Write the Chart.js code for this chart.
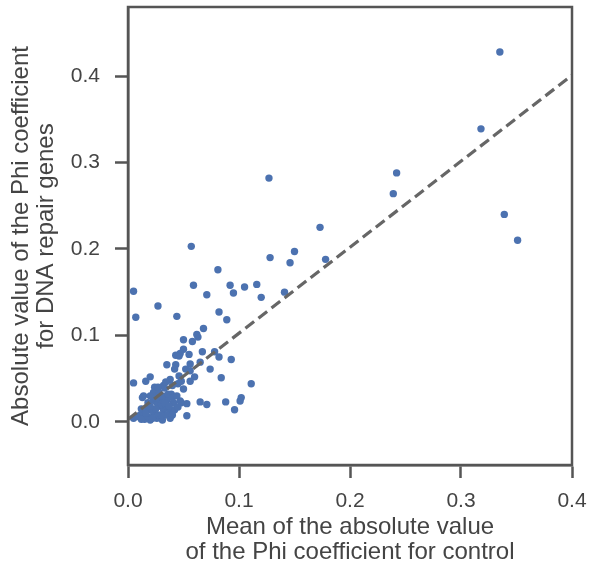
<!DOCTYPE html>
<html>
<head>
<meta charset="utf-8">
<script src="https://cdn.jsdelivr.net/npm/chart.js@4.4.1/dist/chart.umd.min.js"></script>
<style>
  html, body { margin: 0; padding: 0; background: #fff; }
  #wrap { width: 589px; height: 573px; }
</style>
</head>
<body>
<div id="wrap"><canvas id="chart"></canvas></div>
<script>
// mean |phi| for control (x) and |phi| for DNA repair genes (y)
const controlPhi = [
  0.335, 0.318, 0.339, 0.351, 0.242, 0.239, 0.127, 0.173, 0.178, 0.150,
  0.146, 0.141, 0.128, 0.120, 0.116, 0.105, 0.092, 0.095, 0.081, 0.057,
  0.059, 0.071, 0.082, 0.089, 0.005, 0.007, 0.027, 0.044, 0.068, 0.063,
  0.062, 0.050, 0.058, 0.050, 0.047, 0.055, 0.067, 0.078, 0.082, 0.093,
  0.056, 0.065, 0.074, 0.052, 0.060, 0.056, 0.084, 0.111, 0.050, 0.102,
  0.101, 0.088, 0.071, 0.065, 0.053, 0.048, 0.053, 0.096, 0.043, 0.046,
  0.035, 0.043, 0.042, 0.056, 0.046, 0.038, 0.020, 0.016, 0.005, 0.045,
  0.024, 0.032, 0.014, 0.023, 0.028, 0.033, 0.039, 0.018, 0.018, 0.023,
  0.029, 0.035, 0.041, 0.047, 0.029, 0.032, 0.038, 0.042, 0.023, 0.011,
  0.005, 0.008, 0.015, 0.020, 0.026, 0.031, 0.038, 0.035, 0.027, 0.018,
  0.035, 0.026, 0.013, 0.020, 0.030, 0.025, 0.012, 0.020, 0.025, 0.031,
  0.036, 0.040, 0.044, 0.030, 0.022, 0.033, 0.037, 0.040, 0.012, 0.016,
  0.045, 0.027, 0.034, 0.040, 0.048
];
const repairPhi = [
  0.428, 0.339, 0.240, 0.210, 0.288, 0.264, 0.282, 0.225, 0.188, 0.197,
  0.184, 0.150, 0.190, 0.144, 0.159, 0.156, 0.158, 0.149, 0.176, 0.203,
  0.158, 0.147, 0.127, 0.118, 0.151, 0.121, 0.134, 0.122, 0.108, 0.098,
  0.101, 0.095, 0.093, 0.084, 0.079, 0.078, 0.081, 0.081, 0.075, 0.072,
  0.067, 0.069, 0.061, 0.061, 0.052, 0.047, 0.051, 0.044, 0.038, 0.028,
  0.024, 0.023, 0.020, 0.023, 0.021, 0.022, 0.007, 0.014, 0.077, 0.076,
  0.066, 0.066, 0.061, 0.059, 0.053, 0.049, 0.052, 0.047, 0.045, 0.044,
  0.040, 0.042, 0.030, 0.034, 0.034, 0.039, 0.032, 0.022, 0.014, 0.025,
  0.027, 0.025, 0.022, 0.024, 0.018, 0.014, 0.012, 0.014, 0.011, 0.008,
  0.004, 0.006, 0.003, 0.002, 0.004, 0.002, 0.004, 0.008, 0.008, 0.006,
  0.018, 0.022, 0.028, 0.030, 0.020, 0.015, 0.015, 0.018, 0.028, 0.030,
  0.032, 0.028, 0.030, 0.008, 0.004, 0.022, 0.018, 0.008, 0.003, 0.010,
  0.017, 0.040, 0.046, 0.042, 0.047
];

// fitted dashed line
const fitX = [0.0, 0.4];
const fitY = [0.003, 0.401];

const xTicks = [0.0, 0.1, 0.2, 0.3, 0.4];
const yTicks = [0.0, 0.1, 0.2, 0.3, 0.4];

const axisColor = '#555555';
const textColor = '#444444';
const fontFamily = '"Liberation Sans", Arial, Helvetica, sans-serif';

const points = controlPhi.map((x, i) => ({ x: x, y: repairPhi[i] }));
const fitLine = fitX.map((x, i) => ({ x: x, y: fitY[i] }));

// draw the box around the plot area
const frame = {
  id: 'frame',
  afterDatasetsDraw(chart) {
    const { ctx, chartArea } = chart;
    ctx.save();
    ctx.strokeStyle = axisColor;
    ctx.lineWidth = 2.5;
    ctx.strokeRect(chartArea.left, chartArea.top,
      chartArea.right - chartArea.left, chartArea.bottom - chartArea.top);
    ctx.restore();
  }
};

new Chart(document.getElementById('chart'), {
  type: 'scatter',
  data: {
    datasets: [
      {
        type: 'line',
        data: fitLine,
        borderColor: '#666666',
        borderWidth: 3.2,
        borderDash: [11, 5.5],
        pointRadius: 0,
        fill: false,
        order: 0
      },
      {
        data: points,
        backgroundColor: '#4C72B0',
        borderWidth: 0,
        pointRadius: 3.7,
        order: 1
      }
    ]
  },
  options: {
    responsive: true,
    maintainAspectRatio: false,
    animation: false,
    layout: { padding: { left: 8, right: 17, top: 7, bottom: 8 } },
    plugins: {
      legend: { display: false },
      tooltip: { enabled: false }
    },
    scales: {
      x: {
        type: 'linear',
        min: 0,
        max: 0.4,
        afterBuildTicks: (scale) => { scale.ticks = xTicks.map(v => ({ value: v })); },
        afterFit: (scale) => {
          scale.height = 100;
          scale.paddingLeft = 0;
          scale.paddingRight = 0;
        },
        ticks: {
          color: textColor,
          font: { family: fontFamily, size: 21 },
          padding: 11,
          maxRotation: 0,
          callback: (v) => v.toFixed(1)
        },
        grid: { drawOnChartArea: false, tickLength: 13, tickColor: axisColor, tickWidth: 2.5 },
        border: { color: axisColor, width: 2.5 },
        title: {
          display: true,
          text: ['Mean of the absolute value', 'of the Phi coefficient for control'],
          color: textColor,
          font: { family: fontFamily, size: 24, lineHeight: 1.04 },
          padding: { top: 0, bottom: 0 }
        }
      },
      y: {
        type: 'linear',
        min: -0.05,
        max: 0.48,
        afterBuildTicks: (scale) => { scale.ticks = yTicks.map(v => ({ value: v })); },
        afterFit: (scale) => {
          scale.width = 120;
          scale.paddingTop = 0;
          scale.paddingBottom = 0;
        },
        ticks: {
          color: textColor,
          font: { family: fontFamily, size: 21 },
          padding: 15,
          callback: (v) => v.toFixed(1)
        },
        grid: { drawOnChartArea: false, tickLength: 13, tickColor: axisColor, tickWidth: 2.5 },
        border: { color: axisColor, width: 2.5 },
        title: {
          display: true,
          text: ['Absolute value of the Phi coefficient', 'for DNA repair genes'],
          color: textColor,
          font: { family: fontFamily, size: 24, lineHeight: 1.04 },
          padding: { top: 1, bottom: 0 }
        }
      }
    }
  },
  plugins: [frame]
});
</script>
</body>
</html>
